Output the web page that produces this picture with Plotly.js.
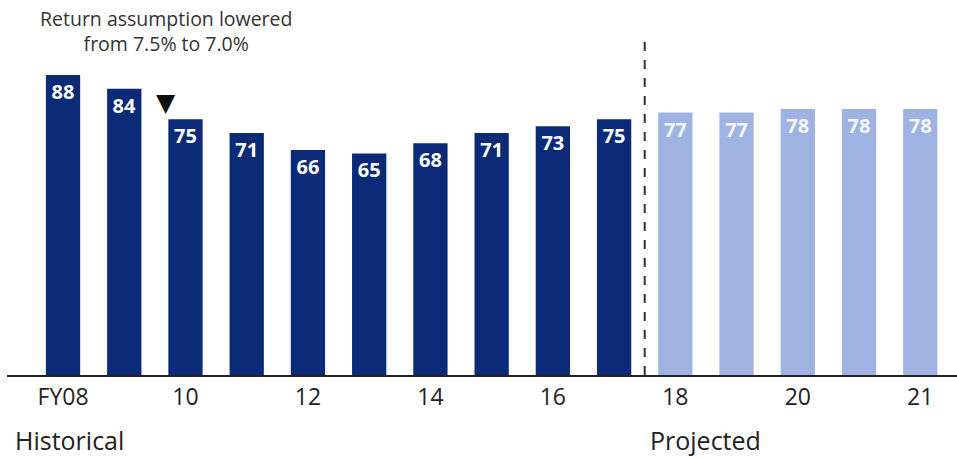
<!DOCTYPE html>
<html>
<head>
<meta charset="utf-8">
<script src="https://cdn.plot.ly/plotly-3.0.1.min.js"></script>
<style>html,body{margin:0;padding:0;background:#fff;}#chart{width:957px;height:458px;}</style>
</head>
<body>
<div id="chart"></div>
<script>
// Data
const histCategories = ["FY08","FY09","FY10","FY11","FY12","FY13","FY14","FY15","FY16","FY17"];
const histValues = [88, 84, 75, 71, 66, 65, 68, 71, 73, 75];
const projCategories = ["FY18","FY19","FY20","FY21","FY22"];
const projValues = [77, 77, 78, 78, 78];
const tickCategories = ["FY08","FY10","FY12","FY14","FY16","FY18","FY20","FY22"];
const tickLabels = ["FY08","10","12","14","16","18","20","21"];

const allCats = histCategories.concat(projCategories);
const FONT = "Open Sans, Noto Sans, sans-serif";

const traces = [
  {
    type: "bar", x: histCategories, y: histValues,
    marker: {color: "#0b2a78"},
    text: histValues.map(String), textposition: "inside", insidetextanchor: "end",
    textangle: 0, constraintext: "none",
    insidetextfont: {family: FONT, size: 20, color: "#ffffff", weight: 700},
    hoverinfo: "skip", showlegend: false
  },
  {
    type: "bar", x: projCategories, y: projValues,
    marker: {color: "#9fb3e2"},
    text: projValues.map(String), textposition: "inside", insidetextanchor: "end",
    textangle: 0, constraintext: "none",
    insidetextfont: {family: FONT, size: 20, color: "#f4f6fc", weight: 700},
    hoverinfo: "skip", showlegend: false
  }
];

const layout = {
  width: 957, height: 458,
  margin: {l: 7, r: 0, t: 0, b: 83},
  paper_bgcolor: "#ffffff", plot_bgcolor: "#ffffff",
  barmode: "group", bargap: 0.44,
  font: {family: FONT, color: "#222"},
  xaxis: {
    type: "category", categoryorder: "array", categoryarray: allCats,
    range: [-0.915, 14.6],
    tickmode: "array", tickvals: tickCategories, ticktext: tickLabels,
    tickfont: {family: FONT, size: 23, color: "#222"},
    showline: true, linecolor: "#222", linewidth: 2,
    ticks: "", showgrid: false, zeroline: false, fixedrange: true
  },
  yaxis: {
    range: [0, 110], visible: false, showgrid: false, zeroline: false, fixedrange: true
  },
  shapes: [
    {type: "line", xref: "x", yref: "paper", x0: 9.5, x1: 9.5, y0: 0, y1: 0.9,
     line: {color: "#333", width: 2, dash: "dash"}}
  ],
  annotations: [
    {xref: "x", yref: "paper", x: 1.68, y: 1, yanchor: "top", yshift: -3, showarrow: false,
     text: "Return assumption lowered<br>from 7.5% to 7.0%",
     font: {family: FONT, size: 19.5, color: "#333"}, align: "center"},
    {xref: "x", yref: "paper", x: 1.68, y: 0.728, yanchor: "middle", showarrow: false,
     text: "▼", font: {family: "DejaVu Sans", size: 25, color: "#111"}},
    {xref: "paper", yref: "paper", x: 0.006, y: -0.172, xanchor: "left", yanchor: "middle",
     showarrow: false, text: "Historical", font: {family: FONT, size: 25, color: "#222"}},
    {xref: "x", yref: "paper", x: 9.56, y: -0.172, xanchor: "left", yanchor: "middle",
     showarrow: false, text: "Projected", font: {family: FONT, size: 25, color: "#222"}}
  ]
};

Plotly.newPlot("chart", traces, layout, {displayModeBar: false, staticPlot: true});
</script>
</body>
</html>
